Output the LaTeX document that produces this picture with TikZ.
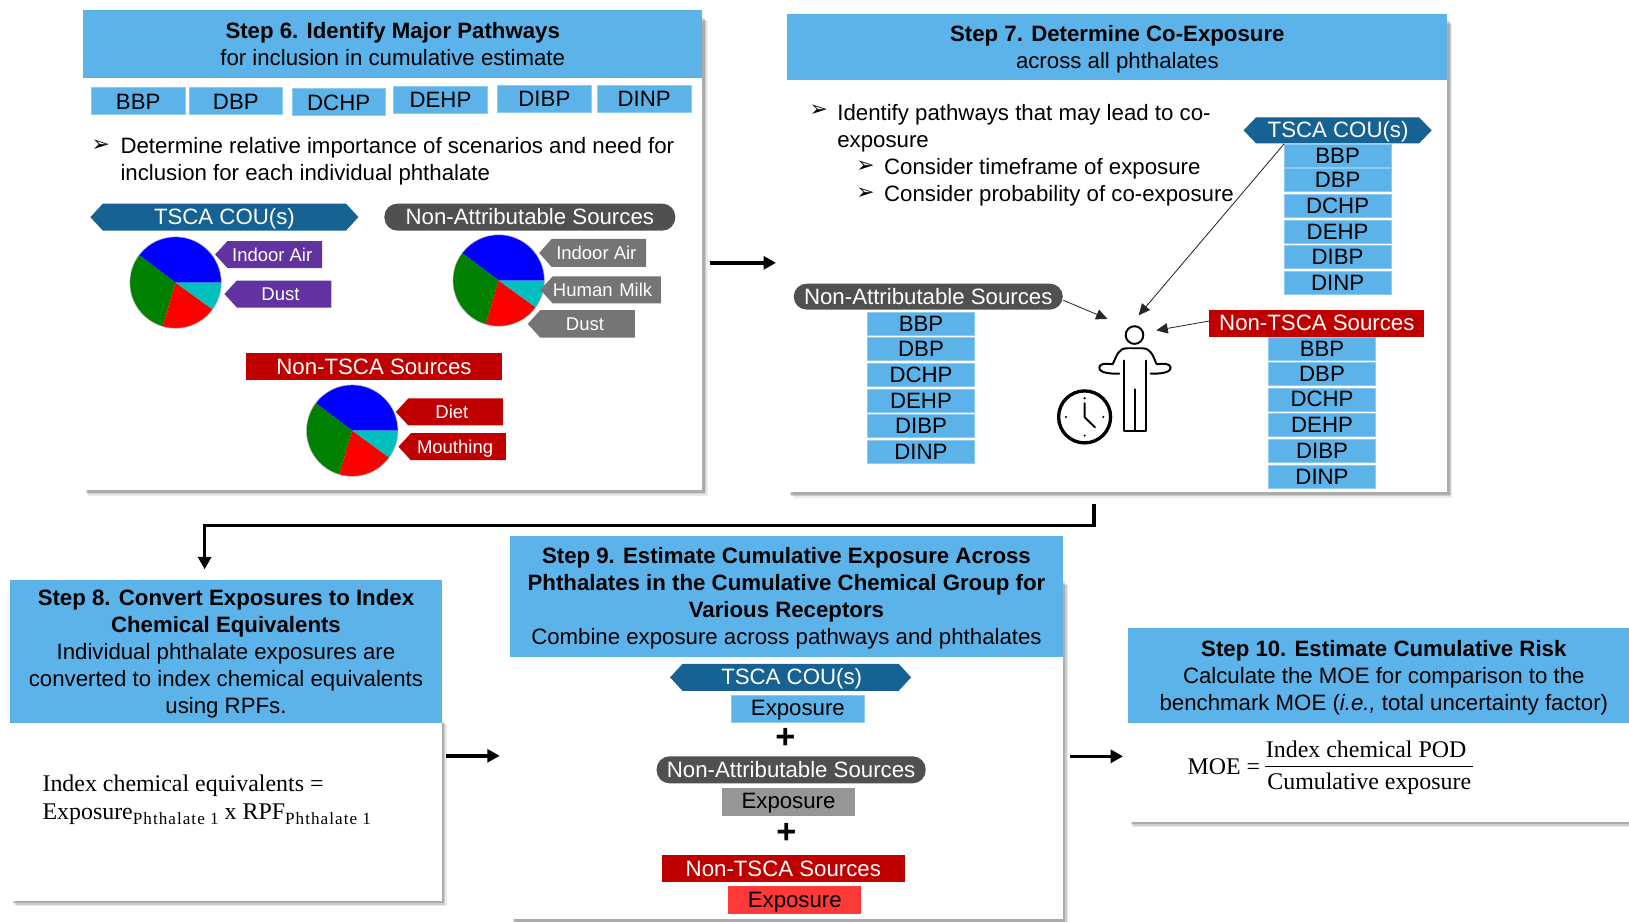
\documentclass[tikz,border=0pt]{standalone}
\usepackage{fontspec}
\setsansfont{Liberation Sans}
\newfontfamily\dvfont{DejaVu Sans}
\newfontfamily\serfont{Liberation Serif}
\usetikzlibrary{arrows.meta,shadows}
\definecolor{hdrblue}{HTML}{5BB3EA}
\definecolor{chipedge}{HTML}{8FCBF0}
\definecolor{tscablue}{HTML}{156293}
\definecolor{darkpill}{HTML}{505050}
\definecolor{epared}{HTML}{C00000}
\definecolor{tagpurple}{HTML}{6132A0}
\definecolor{taggray}{HTML}{757575}
\definecolor{piecyan}{HTML}{00BFBF}
\definecolor{piegreen}{HTML}{008000}
\newcommand\hdup{\rule{0pt}{19.6pt}}
\newcommand\subtxt[1]{\raisebox{-4.5pt}{\fontsize{16.5}{16.5}\selectfont\addfontfeature{LetterSpace=6}#1}}
\tikzset{
  boxat/.style n args={4}{at={({(#1+#3)/2},{(#2+#4)/2})},minimum width={#3-#1},minimum height={#4-#2}},
  basetxt/.style={inner sep=0,outer sep=0,font=\sffamily\fontsize{21.4}{26}\selectfont,text=black},
  panelbody/.style={basetxt,fill=white,
    general shadow={fill=black,opacity=.08,shadow xshift=5pt,shadow yshift=-5pt},
    general shadow={fill=black,opacity=.12,shadow xshift=3.8pt,shadow yshift=-3.8pt},
    general shadow={fill=black,opacity=.16,shadow xshift=2.5pt,shadow yshift=-2.5pt}},
  panelhead/.style={basetxt,fill=hdrblue,align=center},
  chip/.style={basetxt,fill=hdrblue,draw=chipedge,line width=.7pt,text height=16.4pt,text depth=.5pt},
  stackchip/.style={chip,text height=15pt,text depth=.5pt},
  exposurechip/.style={basetxt,text height=18.4pt,text depth=4.6pt},
  bannertxt/.style={basetxt,text=white,text height=18.4pt,text depth=3.6pt},
  tagtxt/.style={basetxt,text=white,font=\sffamily\fontsize{17.8}{20}\selectfont,text height=12.8pt,text depth=.3pt},
  pilltxt/.style={basetxt,text=white,fill=darkpill,rounded corners=12.5pt,text height=18.4pt,text depth=3.6pt},
  redbox/.style={basetxt,text=white,fill=epared,text height=18.4pt,text depth=3.6pt},
  bodytxt/.style={basetxt,align=left,anchor=north west},
  bulletmark/.style={inner sep=0,outer sep=0,font=\dvfont\fontsize{21}{21}\selectfont},
  sertxt/.style={inner sep=0,outer sep=0,font=\serfont\fontsize{23}{27}\selectfont},
  flowarrow/.style={line width=3.4pt,-{Triangle[length=12pt,width=12.5pt]}},
  thinarrow/.style={line width=.8pt,black!85,-{Triangle[length=11pt,width=10pt]}},
  plusmark/.style={inner sep=0,outer sep=0,font=\sffamily\bfseries\fontsize{33}{33}\selectfont},
  figline/.style={line width=1.9pt,line cap=round,line join=round},
}
\newcommand\tscabanner[7]{% name x1 y1 x2 y2 tx ty
  \fill[tscablue] (#2,{(#3+#5)/2}) -- ({#2+12},#3) -- ({#4-12},#3) -- (#4,{(#3+#5)/2}) -- ({#4-12},#5) -- ({#2+12},#5) -- cycle;
  \node[bannertxt] (#1) at (#6,#7) {TSCA COU(s)};}
\newcommand\picktag[9]{% name colour x1 y1 x2 y2 tx ty text
  \fill[#2] (#3,{(#4+#6)/2}) -- ({#3+12},#4) -- (#5,#4) -- (#5,#6) -- ({#3+12},#6) -- cycle;
  \node[tagtxt] (#1) at (#7,#8) {#9};}
\newcommand\piechart[3]{% name cx cy
  \coordinate (#1) at (#2,#3);
  \begin{scope}[shift={(#2,#3)},x=1pt,y=1pt]
    \fill[blue] (0,0) -- (0:44) arc[start angle=0,end angle=143,radius=44] -- cycle;
    \fill[piegreen] (0,0) -- (143:44) arc[start angle=143,end angle=253.5,radius=44] -- cycle;
    \fill[red] (0,0) -- (253.5:44) arc[start angle=253.5,end angle=324,radius=44] -- cycle;
    \fill[piecyan] (0,0) -- (324:44) arc[start angle=324,end angle=360,radius=44] -- cycle;
    \draw[black!30,line width=.5pt] (0,0) circle[radius=44];
  \end{scope}}
\newcommand\chipstack[9]{% prefix x1 x2 c1..c6
  \node[stackchip,boxat={#2}{(#4-11)}{#3}{(#4+11)}] (#1a) {BBP};
  \node[stackchip,boxat={#2}{(#5-11)}{#3}{(#5+11)}] (#1b) {DBP};
  \node[stackchip,boxat={#2}{(#6-11)}{#3}{(#6+11)}] (#1c) {DCHP};
  \node[stackchip,boxat={#2}{(#7-11)}{#3}{(#7+11)}] (#1d) {DEHP};
  \node[stackchip,boxat={#2}{(#8-11)}{#3}{(#8+11)}] (#1e) {DIBP};
  \node[stackchip,boxat={#2}{(#9-11)}{#3}{(#9+11)}] (#1f) {DINP};}
\begin{document}
\begin{tikzpicture}[x=1pt,y=-1pt]
\useasboundingbox (0,0) rectangle (1568,887.4);
\clip (0,0) rectangle (1568,887.4);
\fill[white] (0,0) rectangle (1568,887.4);

% ---------- Step 6
\node[panelbody,boxat={80}{15}{676}{472}] (s6body) {};
\node[panelhead,boxat={80}{10}{676}{75}] (s6head) {\bfseries Step 6. Identify Major Pathways\\for inclusion in cumulative estimate};
\node[chip,boxat={88}{84}{178}{110}] (s6a) {BBP};
\node[chip,boxat={182}{84}{272}{110}] (s6b) {DBP};
\node[chip,boxat={281}{85}{371}{111}] (s6c) {DCHP};
\node[chip,boxat={379}{83}{469}{109}] (s6d) {DEHP};
\node[chip,boxat={479}{82}{569}{108}] (s6e) {DIBP};
\node[chip,boxat={575}{82}{665}{108}] (s6f) {DINP};
\node[bulletmark] (s6bul) at (97,140) {➢};
\node[bodytxt] (s6txt) at (116,132) {Determine relative importance of scenarios and need for\\inclusion for each individual phthalate};

\tscabanner{s6tsca}{87}{196}{345}{222}{216}{209}
\node[pilltxt,boxat={370}{196}{650}{222}] (s6na) {Non-Attributable Sources};
\node[redbox,boxat={237}{340}{483}{366}] (s6nt) {Non-TSCA Sources};

\piechart{s6pa}{169}{272}
\piechart{s6pb}{480}{270}
\piechart{s6pc}{339}{414.5}
\picktag{s6ta}{tagpurple}{207}{232}{310}{258}{262}{245}{Indoor Air}
\picktag{s6tb}{tagpurple}{216}{270}{319}{296}{270}{283}{Dust}
\picktag{s6tc}{taggray}{519}{230}{622}{257}{574}{243.5}{Indoor Air}
\picktag{s6td}{taggray}{520}{266}{636}{292}{580}{279}{Human\hspace{1.5pt} Milk}
\picktag{s6te}{taggray}{508}{298.5}{611}{325}{563}{311.5}{Dust}
\picktag{s6tf}{epared}{381}{383.5}{484}{409.5}{435}{396.5}{Diet}
\picktag{s6tg}{epared}{383.5}{417}{487}{443}{438}{430}{Mouthing}

% ---------- Step 7
\node[panelbody,boxat={758}{18}{1393}{474}] (s7body) {};
\node[panelhead,boxat={758}{13}{1393}{77}] (s7head) {\hdup\bfseries Step 7. Determine Co-Exposure\\across all phthalates};
\node[bulletmark] (s7bula) at (788,107) {➢};
\node[bulletmark] (s7bulb) at (833,160) {➢};
\node[bulletmark] (s7bulc) at (833,186) {➢};
\node[bodytxt] (s7txta) at (806,100.5) {Identify pathways that may lead to co-\\exposure};
\node[bodytxt] (s7txtb) at (851,152) {Consider timeframe of exposure\\Consider probability of co-exposure};

\tscabanner{s7tsca}{1197}{113}{1378}{138}{1288}{125}
\chipstack{s7u}{1236}{1339}{150}{173.5}{198}{223}{247.5}{272.5}
\node[pilltxt,boxat={764}{273}{1023}{298}] (s7pill) {Non-Attributable Sources};
\chipstack{s7x}{835}{938}{312}{336}{361}{386}{410}{435}
\node[redbox,boxat={1164}{298}{1371}{324}] (s7red) {Non-TSCA Sources};
\chipstack{s7r}{1221}{1324}{335.5}{359.5}{384.5}{409}{434}{459}

% person
\node[circle,draw,line width=1.9pt,inner sep=0,minimum size=17pt] (phead) at (1092,322.5) {};
\begin{scope}[shift={(1001,288.7)},x=.3208pt,y=-.3208pt]
  \draw[figline] (238,221) .. controls (215,222) and (178,220) .. (178,203) .. controls (178,190) and (200,190) .. (218,193)
     .. controls (232,165) and (235,145) .. (262,145) -- (306,145) .. controls (333,145) and (338,165) .. (350,193)
     .. controls (368,190) and (392,190) .. (392,203) .. controls (392,220) and (355,222) .. (332,221);
  \draw[figline] (252,182) -- (252,392) -- (318,392) -- (318,182);
  \draw[figline] (284,268) -- (284,392);
  \draw[line width=3.2pt] (134,351) circle[radius=78];
  \draw[line width=1.8pt,line cap=round,line join=round] (134,310) -- (134,352) -- (165,382);
  \fill (134,295) circle[radius=3.5] (134,407) circle[radius=3.5] (78,351) circle[radius=3.5] (190,351) circle[radius=3.5];
\end{scope}
\draw[thinarrow] ([shift={(-52,13.5)}]s7tsca.center) -- ([shift={(4,-19)}]phead.center);
\draw[thinarrow] ([shift={(130,3.5)}]s7pill.center) -- ([shift={(-26,-15.5)}]phead.center);
\draw[thinarrow] ([shift={(0,-2)}]s7red.west) -- ([shift={(21,-4.5)}]phead.center);

% ---------- Step 8
\node[panelbody,boxat={10}{692}{425}{867}] (s8body) {};
\node[panelhead,boxat={10}{558}{425}{696}] (s8head) {\hdup\bfseries Step 8. Convert Exposures to Index\\\bfseries Chemical Equivalents\\Individual phthalate exposures are\\converted to index chemical equivalents\\using RPFs.};
\node[sertxt,align=left,anchor=north west] (s8txt) at (41,746) {Index chemical equivalents =\\Exposure\subtxt{Phthalate 1} x RPF\subtxt{Phthalate 1}};

% ---------- Step 9
\node[panelbody,boxat={491}{558}{1023}{885}] (s9body) {};
\node[panelhead,boxat={491}{516}{1023}{632}] (s9head) {\hdup\bfseries Step 9. Estimate Cumulative Exposure Across\\\bfseries Phthalates in the Cumulative Chemical Group for\\\bfseries Various Receptors\\Combine exposure across pathways and phthalates};
\tscabanner{s9tsca}{645}{639}{877}{665}{762}{651.5}
\node[exposurechip,fill=hdrblue,draw=chipedge,line width=.7pt,boxat={704}{669}{832}{695.5}] (s9ea) {Exposure};
\node[plusmark] (s9pa) at (756,711) {+};
\node[pilltxt,boxat={632}{728}{891}{754}] (s9na) {Non-Attributable Sources};
\node[exposurechip,fill=black!41,boxat={695}{758.5}{823}{785}] (s9eb) {Exposure};
\node[plusmark] (s9pb) at (757,802) {+};
\node[redbox,boxat={637}{823}{871}{849}] (s9nt) {Non-TSCA Sources};
\node[exposurechip,fill=red!78!white,boxat={701}{853}{829}{880}] (s9ec) {Exposure};

% ---------- Step 10
\node[panelbody,boxat={1086}{640}{1590}{791}] (s10body) {};
\node[panelhead,boxat={1086}{604}{1578}{696}] (s10head) {\hdup\bfseries Step 10. Estimate Cumulative Risk\\\mdseries Calculate the MOE for comparison to the\\\mdseries benchmark MOE (\textit{i.e.,} total uncertainty factor)};
\node[sertxt,anchor=east] (s10moe) at (1213,738) {MOE =};
\node[sertxt] (s10num) at (1315,721) {Index chemical POD};
\node[sertxt] (s10den) at (1318,754) {Cumulative exposure};
\draw[line width=1pt] ([xshift=-2pt]s10den.west |- s10moe.center) -- ([xshift=2pt]s10den.east |- s10moe.center);

% ---------- Flow arrows
\draw[flowarrow] ([shift={(7,9.5)}]s6body.east) -- ([shift={(-11,7)}]s7body.west);
\draw[flowarrow,line join=miter] ([shift={(-22.5,11)}]s7body.south) -- ++(0,21) -| ([shift={(-20.5,-10)}]s8head.north);
\draw[flowarrow] ([shift={(4,-52)}]s8body.east) -- ([shift={(-10,6)}]s9body.west);
\draw[flowarrow] ([shift={(7,6.5)}]s9body.east) -- ([shift={(-5,12.5)}]s10body.west);
\end{tikzpicture}
\end{document}
